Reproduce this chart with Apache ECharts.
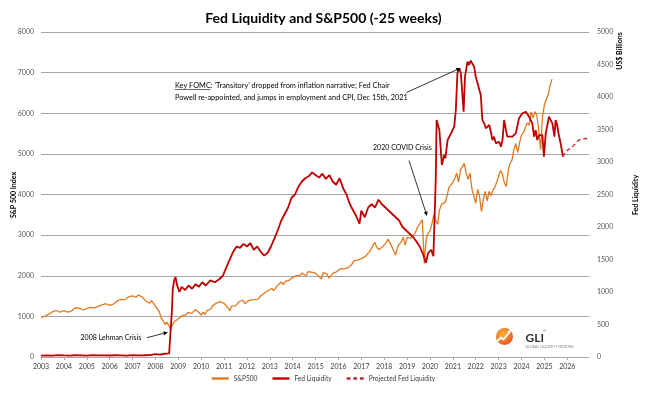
<!DOCTYPE html>
<html><head><meta charset="utf-8">
<script src="https://cdn.jsdelivr.net/npm/echarts@6/dist/echarts.min.js"></script>
<style>html,body{margin:0;padding:0;background:#fff}#c{width:647px;height:394px}</style>
</head><body><div id="c"></div>
<script>
// ---------- data ----------
const xTickYears = [2003,2004,2005,2006,2007,2008,2009,2010,2011,2012,2013,2014,2015,2016,2017,2018,2019,2020,2021,2022,2023,2024,2025,2026];
// S&P500 (shifted -25 weeks), one value per month starting Jan 2003 on the plotted time axis
const spxStart = 2003.0;
const spxMonthly = [
  975, 990, 1008, 996, 1050, 1058, 1112, 1131, 1145, 1126, 1107, 1121,
  1141, 1102, 1104, 1115, 1130, 1174, 1212, 1181, 1204, 1180, 1157, 1192,
  1191, 1234, 1220, 1229, 1207, 1249, 1248, 1280, 1281, 1295, 1311, 1270,
  1270, 1277, 1304, 1336, 1378, 1401, 1418, 1438, 1407, 1421, 1482, 1531,
  1503, 1455, 1474, 1527, 1549, 1481, 1468, 1378, 1331, 1323, 1386, 1400,
  1250, 1180, 1120, 960, 900, 800, 860, 780, 680, 800, 870, 910,
  940, 987, 1021, 1057, 1036, 1096, 1115, 1074, 1104, 1169, 1187, 1089,
  1031, 1102, 1049, 1141, 1183, 1181, 1258, 1286, 1327, 1326, 1364, 1345,
  1321, 1292, 1219, 1131, 1253, 1247, 1258, 1312, 1366, 1408, 1398, 1310,
  1362, 1379, 1407, 1441, 1412, 1416, 1426, 1498, 1515, 1569, 1598, 1631,
  1606, 1686, 1633, 1682, 1757, 1806, 1848, 1783, 1859, 1872, 1884, 1924,
  1960, 1931, 2003, 1972, 2018, 2068, 2059, 1995, 2104, 2068, 2086, 2107,
  2063, 2104, 1972, 1920, 2079, 2080, 2044, 1940, 1932, 2060, 2065, 2097,
  2099, 2174, 2171, 2168, 2126, 2199, 2239, 2279, 2364, 2363, 2384, 2412,
  2423, 2470, 2472, 2519, 2575, 2648, 2674, 2824, 2714, 2641, 2648, 2705,
  2718, 2816, 2902, 2914, 2712, 2760, 2507, 2704, 2784, 2834, 2946, 2752,
  2942, 2980, 2926, 2977, 3038, 3141, 3231, 3226, 3380, 2300, 2912, 3044,
  3100, 3271, 3500, 3363, 3270, 3622, 3756, 3714, 3811, 3973, 4181, 4204,
  4298, 4395, 4523, 4308, 4605, 4567, 4766, 4516, 4374, 4530, 4132, 4132,
  3785, 4130, 3955, 3586, 3872, 4080, 3840, 4077, 3970, 4109, 4169, 4180,
  4450, 4589, 4508, 4288, 4194, 4568, 4770, 4846, 5096, 5254, 5036, 5278,
  5460, 5522, 5648, 5762, 5705, 6032, 5882, 6040, 5955, 5612, 5100, 5912,
  6205, 6339, 6460, 6688, 6840
];
// Fed Liquidity (US$ billions): [year, value]
const fedLiquidity = [
  [2003.0,20],[2003.25,25],[2003.5,22],[2003.75,28],[2004.0,24],[2004.25,22],[2004.5,27],[2004.75,25],
  [2005.0,22],[2005.25,28],[2005.5,24],[2005.75,26],[2006.0,23],[2006.25,27],[2006.5,25],[2006.75,22],
  [2007.0,28],[2007.25,25],[2007.5,27],[2007.75,30],[2008.0,45],[2008.2,35],[2008.4,50],[2008.6,55],[2008.68,60],
  [2008.72,700],[2008.76,1050],[2008.82,1180],[2008.88,1230],[2008.95,1100],[2009.05,1000],[2009.15,1080],
  [2009.3,1030],[2009.45,1100],[2009.6,1050],[2009.75,1120],[2009.9,1080],[2010.05,1150],[2010.2,1100],
  [2010.4,1180],[2010.6,1150],[2010.8,1200],[2010.95,1250],[2011.1,1380],[2011.25,1500],[2011.4,1620],
  [2011.55,1700],[2011.7,1680],[2011.85,1740],[2012.0,1700],[2012.15,1750],[2012.3,1650],[2012.45,1700],
  [2012.6,1620],[2012.75,1560],[2012.9,1600],[2013.05,1700],[2013.2,1820],[2013.35,1950],[2013.5,2100],
  [2013.65,2200],[2013.8,2300],[2013.95,2450],[2014.1,2500],[2014.25,2620],[2014.4,2700],[2014.55,2750],
  [2014.7,2780],[2014.85,2840],[2015.0,2800],[2015.15,2760],[2015.3,2820],[2015.45,2740],[2015.6,2800],
  [2015.75,2700],[2015.9,2650],[2016.05,2750],[2016.2,2600],[2016.35,2500],[2016.5,2350],[2016.65,2250],
  [2016.8,2150],[2016.92,2050],[2017.0,2250],[2017.15,2150],[2017.3,2300],[2017.45,2350],[2017.6,2300],
  [2017.75,2420],[2017.9,2350],[2018.05,2300],[2018.2,2250],[2018.35,2200],[2018.5,2150],[2018.65,2100],
  [2018.8,2000],[2018.95,1950],[2019.1,1900],[2019.25,1850],[2019.4,1780],[2019.55,1700],[2019.7,1580],
  [2019.82,1450],[2019.92,1600],[2020.05,1650],[2020.15,1550],[2020.2,1580],
  [2020.25,2700],[2020.29,3646],[2020.33,3620],[2020.41,3492],[2020.52,2954],[2020.62,3108],[2020.67,3057],
  [2020.77,3338],[2020.92,3441],[2021.06,3543],[2021.13,3800],[2021.2,4369],[2021.28,4441],[2021.35,4365],
  [2021.42,4338],[2021.47,3774],[2021.53,4312],[2021.64,4543],[2021.71,4492],[2021.78,4559],[2021.85,4543],
  [2021.93,4466],[2022.0,4312],[2022.08,4210],[2022.15,4236],[2022.22,4031],[2022.29,3646],[2022.37,3595],
  [2022.44,3518],[2022.59,3569],[2022.66,3466],[2022.73,3338],[2022.8,3389],[2022.88,3287],[2023.02,3312],
  [2023.1,3235],[2023.17,3338],[2023.24,3646],[2023.32,3492],[2023.38,3389],[2023.46,3415],[2023.6,3389],
  [2023.75,3441],[2023.89,3672],[2024.04,3749],[2024.19,3774],[2024.33,3697],[2024.47,3595],[2024.55,3389],
  [2024.62,3492],[2024.69,3338],[2024.77,3415],[2024.91,3415],[2024.98,3082],[2025.06,3441],[2025.2,3697],
  [2025.35,3595],[2025.44,3389],[2025.49,3646],[2025.56,3569],[2025.63,3415],[2025.71,3287],[2025.81,3082]
];
const fedProjected = [[2025.81,3082],[2025.93,3159],[2026.22,3235],[2026.51,3338],[2026.8,3364],[2026.94,3338]];
const annotations = [
  {lines:["Key FOMC: 'Transitory' dropped from inflation narrative; Fed Chair","Powell re-appointed, and jumps in employment and CPI, Dec 15th, 2021"], tip:[2021.34,4446], axis:1},
  {lines:["2020 COVID Crisis"], tip:[2019.87,3470], axis:0},
  {lines:["2008 Lehman Crisis"], tip:[2008.55,610], axis:0}
];

const spxData = spxMonthly.map((v,i)=>[spxStart + i/12, v]);
const FONT = 'Lato, "Open Sans", sans-serif';
const solidIcon = 'path://M0,0h18v2.4h-18z';
const dashIcon = 'path://M0,0h4v2h-4zM7,0h4v2h-4zM14,0h4v2h-4z';
const chart = echarts.init(document.getElementById('c'), null, {renderer:'canvas'});
chart.setOption({
  animation:false,
  backgroundColor:'#fff',
  title:{text:'{b|Fed Liquidity}{n| and S&P500 (-25 weeks)}', left:'center', top:6,
    textStyle:{rich:{b:{fontFamily:FONT,fontSize:14,fontWeight:'bold',color:'#000'},n:{fontFamily:FONT,fontSize:14,color:'#000'}}}},
  grid:{left:41, right:58, top:32, bottom:37},
  legend:{bottom:7, left:'center', itemWidth:17, itemHeight:2.4, itemGap:15, symbolKeepAspect:false,
    textStyle:{fontFamily:FONT,fontSize:6.6,color:'#404040'},
    data:[{name:'S&P500',icon:solidIcon},{name:'Fed Liquidity',icon:solidIcon},{name:'Projected Fed Liquidity',icon:dashIcon}]},
  xAxis:{type:'value', min:2003, max:2026.95,
    axisLine:{lineStyle:{color:'#a6a6a6'}},
    axisTick:{show:true, length:3, lineStyle:{color:'#a6a6a6'}, customValues:xTickYears},
    axisLabel:{customValues:xTickYears, fontFamily:FONT, fontSize:7, color:'#404040', margin:6, formatter:v=>String(v)},
    splitLine:{show:false}},
  yAxis:[
    {type:'value', min:0, max:8000, interval:1000, axisLine:{show:false}, axisTick:{show:false},
     axisLabel:{fontFamily:FONT,fontSize:7,color:'#595959',margin:7, formatter:v=>String(v)},
     splitLine:{lineStyle:{color:'#a6a6a6',width:1}}},
    {type:'value', min:0, max:5000, interval:500, position:'right', axisLine:{show:false}, axisTick:{show:false},
     axisLabel:{fontFamily:FONT,fontSize:7,color:'#595959',margin:8, formatter:v=>String(v)}, splitLine:{show:false}}
  ],
  series:[
    {name:'S&P500', type:'line', yAxisIndex:0, data:spxData, symbol:'none', z:3,
     lineStyle:{color:'#E3791F', width:1.3}, itemStyle:{color:'#E3791F'}},
    {name:'Fed Liquidity', type:'line', yAxisIndex:1, data:fedLiquidity, symbol:'none', z:4,
     lineStyle:{color:'#C00000', width:1.8}, itemStyle:{color:'#C00000'}},
    {name:'Projected Fed Liquidity', type:'line', yAxisIndex:1, data:fedProjected, symbol:'none', z:4,
     lineStyle:{color:'#C0282D', width:1.4, type:[4,3]}, itemStyle:{color:'#C0282D'}}
  ]
});

// annotations (text positions in px; arrow tips from data coords)
function arrow(x1,y1,x2,y2){
  const a=Math.atan2(y2-y1,x2-x1), L=4.5, W=2;
  const bx=x2-L*Math.cos(a), by=y2-L*Math.sin(a);
  return [
    {type:'line', shape:{x1:x1,y1:y1,x2:bx,y2:by}, style:{stroke:'#000',lineWidth:0.8}, z:10},
    {type:'polygon', shape:{points:[[x2,y2],[bx+W*Math.sin(a),by-W*Math.cos(a)],[bx-W*Math.sin(a),by+W*Math.cos(a)]]}, style:{fill:'#000'}, z:10}
  ];
}
const tip = (a)=>chart.convertToPixel({xAxisIndex:0,yAxisIndex:a.axis}, a.tip);
const g = [];
const tf = {fontFamily:FONT, fontSize:8, fill:'#000'};
// FOMC
g.push({type:'text', x:175, y:85, scaleX:0.92, style:Object.assign({text:annotations[0].lines[0], textVerticalAlign:'middle'},tf), z:10});
g.push({type:'text', x:175, y:97, scaleX:0.92, style:Object.assign({text:annotations[0].lines[1], textVerticalAlign:'middle'},tf), z:10});
g.push({type:'line', shape:{x1:175,y1:89.5,x2:210.5,y2:89.5}, style:{stroke:'#000',lineWidth:0.6}, z:10});
let p = tip(annotations[0]); g.push(...arrow(406.5,92.5,p[0],p[1]));
// COVID
g.push({type:'text', x:373, y:147, scaleX:0.88, style:Object.assign({text:annotations[1].lines[0], textVerticalAlign:'middle'},tf), z:10});
p = tip(annotations[1]); g.push(...arrow(409,160.5,p[0],p[1]));
// Lehman
g.push({type:'text', x:80.5, y:337.7, scaleX:0.88, style:Object.assign({text:annotations[2].lines[0], textVerticalAlign:'middle'},tf), z:10});
p = tip(annotations[2]); g.push(...arrow(147,337.7,p[0],p[1]));
// axis titles
g.push({type:'text', x:13.5, y:195, rotation:Math.PI/2, style:{text:'S&P 500 Index', fontFamily:FONT, fontSize:7, fontWeight:'bold', fill:'#000', textAlign:'center', textVerticalAlign:'middle'}});
g.push({type:'text', x:620, y:51, rotation:Math.PI/2, style:{text:'US$ Billions', fontFamily:FONT, fontSize:7, fontWeight:'bold', fill:'#000', textAlign:'center', textVerticalAlign:'middle'}});
g.push({type:'text', x:636, y:195, rotation:Math.PI/2, style:{text:'Fed Liquidity', fontFamily:FONT, fontSize:7, fontWeight:'bold', fill:'#000', textAlign:'center', textVerticalAlign:'middle'}});
// GLI logo
g.push({type:'circle', shape:{cx:504.5, cy:336.5, r:8.5}, style:{fill:new echarts.graphic.RadialGradient(0.4,0.35,0.7,[{offset:0,color:'#FDB338'},{offset:1,color:'#E8541E'}])}, z:12});
g.push({type:'polyline', shape:{points:[[497.5,341],[501,337.5],[503.5,339.5],[509.5,332]]}, style:{stroke:'#fff', lineWidth:1.8, fill:null}, z:13});
g.push({type:'polygon', shape:{points:[[511,330],[507,331],[510,334]]}, style:{fill:'#fff'}, z:13});
g.push({type:'text', x:525.5, y:338, style:{text:'GLI', fontFamily:FONT, fontSize:12, fontWeight:'bold', fill:'#333', textVerticalAlign:'middle'}, z:12});
g.push({type:'text', x:543, y:332, style:{text:'™', fontFamily:FONT, fontSize:4, fill:'#333', textVerticalAlign:'middle'}, z:12});
g.push({type:'text', x:525.5, y:346.8, style:{text:'GLOBAL LIQUIDITY INDEXES', fontFamily:FONT, fontSize:3.6, fill:'#888', textVerticalAlign:'middle'}, z:12});
chart.setOption({graphic:g});
</script>
</body></html>
